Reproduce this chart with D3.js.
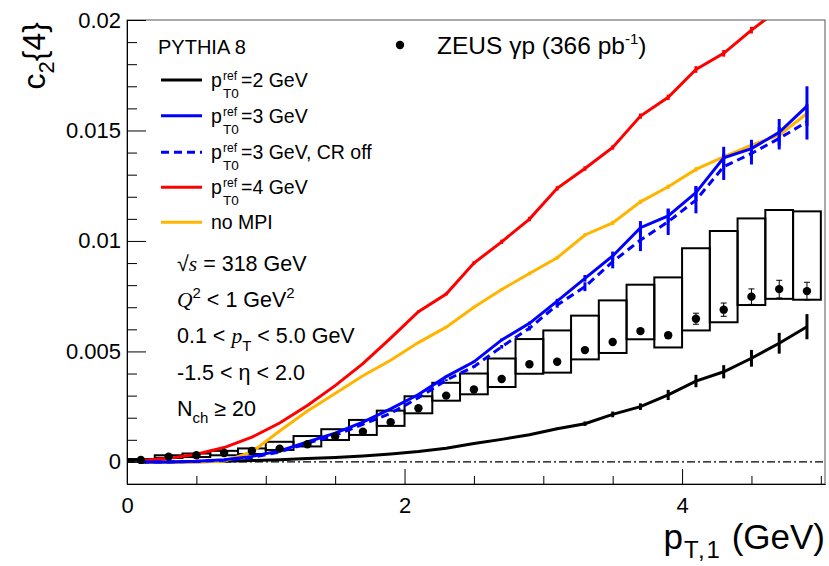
<!DOCTYPE html>
<html>
<head>
<meta charset="utf-8">
<script src="https://cdn.jsdelivr.net/npm/d3@7"></script>
<style>
  body { margin: 0; background: #fff; }
  text { font-family: "Liberation Sans", Arial, Helvetica, sans-serif; fill: #000; }
  .it { font-family: "Liberation Serif", "Times New Roman", serif; font-style: italic; }
</style>
</head>
<body>
<div id="canvas"></div>
<script>
// bin centres (GeV)
const ptBins = [0.1, 0.3, 0.5, 0.7, 0.9, 1.1, 1.3, 1.5, 1.7, 1.9, 2.1, 2.3, 2.5, 2.7, 2.9, 3.1, 3.3, 3.5, 3.7, 3.9, 4.1, 4.3, 4.5, 4.7, 4.9];

// ZEUS data
const zeusVal   = [0.00009, 0.00024, 0.0003, 0.0004, 0.0005, 0.0006, 0.0008, 0.00115, 0.00137, 0.0018, 0.00243, 0.003, 0.00328, 0.00375, 0.00442, 0.00453, 0.00506, 0.00543, 0.00592, 0.00573, 0.00648, 0.00689, 0.00748, 0.00782, 0.00773];
const zeusStat  = [0, 0, 0, 0, 0, 0, 0, 0, 0, 0, 0, 0, 0, 0, 0, 0, 0, 0, 0.0001, 0.00012, 0.00025, 0.0003, 0.00035, 0.0004, 0.0004];
const zeusSysLo = [0.00005, 0.00018, 0.00022, 0.0003, 0.00036, 0.00054, 0.0007, 0.00099, 0.00122, 0.00163, 0.0022, 0.00277, 0.00306, 0.00339, 0.00399, 0.00404, 0.00464, 0.00493, 0.00555, 0.00518, 0.00595, 0.00632, 0.0071, 0.00738, 0.00734];
const zeusSysHi = [0.00013, 0.0003, 0.00038, 0.0005, 0.00061, 0.00091, 0.00117, 0.00148, 0.0019, 0.00232, 0.00297, 0.00358, 0.004, 0.00468, 0.00556, 0.00595, 0.00662, 0.00731, 0.00802, 0.00835, 0.00967, 0.01045, 0.01102, 0.0114, 0.01134];

// PYTHIA 8 curves
const pt0ref2    = [0, 0, 0.00001, 0.00003, 0.00006, 0.0001, 0.00015, 0.0002, 0.00027, 0.00036, 0.00047, 0.00062, 0.00083, 0.00102, 0.00123, 0.0015, 0.00173, 0.00215, 0.0025, 0.00303, 0.00366, 0.00408, 0.00469, 0.00537, 0.00612];
const pt0ref2Err = [0, 0, 0, 0, 0, 0, 0, 0, 0, 0, 0.00002, 0.00002, 0.00003, 0.00003, 0.00004, 0.00005, 0.0001, 0.00013, 0.00015, 0.00023, 0.00028, 0.0003, 0.00038, 0.00047, 0.00057];
const pt0ref3    = [0, 0, 0.00003, 0.0001, 0.00025, 0.0005, 0.0009, 0.0013, 0.0018, 0.0024, 0.00305, 0.00386, 0.00453, 0.00552, 0.00627, 0.00728, 0.00831, 0.00932, 0.0106, 0.01113, 0.01219, 0.01376, 0.01418, 0.01492, 0.0161];
const pt0ref3Err = [0, 0, 0, 0, 0, 0, 0, 0, 0, 0, 0.00003, 0.00004, 0.00005, 0.00006, 0.00008, 0.0001, 0.00015, 0.0002, 0.0003, 0.0003, 0.0003, 0.0005, 0.0004, 0.0006, 0.0009];
const pt0ref3CR    = [0, 0, 0.00002, 0.00008, 0.0002, 0.00045, 0.00085, 0.0012, 0.0017, 0.0022, 0.0029, 0.0037, 0.00431, 0.00521, 0.00605, 0.0071, 0.00793, 0.00906, 0.01004, 0.01087, 0.01185, 0.01336, 0.01396, 0.01464, 0.01539];
const pt0ref3CRErr = [0, 0, 0, 0, 0, 0, 0, 0, 0, 0, 0.00003, 0.00004, 0.00005, 0.00008, 0.0001, 0.00012, 0.0002, 0.0003, 0.0005, 0.0006, 0.0006, 0.0006, 0.0005, 0.0005, 0.0008];
const pt0ref4    = [0.00006, 0.00016, 0.00035, 0.00065, 0.00112, 0.00176, 0.00255, 0.00345, 0.00445, 0.0056, 0.0068, 0.0076, 0.009, 0.00996, 0.01099, 0.01238, 0.01328, 0.01423, 0.01565, 0.0165, 0.01776, 0.01849, 0.01954, 0.0205, 0.0213];
const pt0ref4Err = [0, 0, 0, 0, 0, 0, 0, 0, 0, 0, 0.00005, 0.00006, 0.00008, 0.0001, 0.0001, 0.0001, 0.0001, 0.0001, 0.00012, 0.00012, 0.00015, 0.00015, 0.00015, 0.00015, 0.00015];
const noMPI    = [0, 0, 0, 0.00003, 0.00045, 0.0014, 0.0023, 0.0031, 0.0039, 0.0046, 0.0054, 0.0061, 0.007, 0.0078, 0.00853, 0.00924, 0.01027, 0.01082, 0.01177, 0.01245, 0.01324, 0.01381, 0.01434, 0.01479, 0.01577];
const noMPIErr = [0, 0, 0, 0, 0, 0, 0, 0, 0, 0, 0.00004, 0.00005, 0.00006, 0.00006, 0.00008, 0.00008, 0.00008, 0.0001, 0.0001, 0.0001, 0.0001, 0.00012, 0.00012, 0.00012, 0.00015];

// axis ticks
const xMajorTicks = [0, 2, 4];
const xTickLabels = ["0", "2", "4"];
const xMinorTicks = [0.5, 1, 1.5, 2.5, 3, 3.5, 4.5, 5];
const yMajorTicks = [0, 0.005, 0.01, 0.015, 0.02];
const yTickLabels = ["0", "0.005", "0.01", "0.015", "0.02"];
const yMinorTicks = d3.range(-1, 21).filter(i => i % 5 !== 0).map(i => i / 1000);

const width = 829;
const height = 566;
const margin = { top: 20, left: 127, bottom: 82, right: 4 };

const svg = d3.select("#canvas").append("svg")
    .attr("width", width)
    .attr("height", height);

const x = d3.scaleLinear().domain([0, 5.03]).range([margin.left, width - margin.right]);
const y = d3.scaleLinear().domain([-0.001, 0.02]).range([height - margin.bottom, margin.top]);

svg.append("clipPath").attr("id", "plotclip")
    .append("rect")
    .attr("x", x(0)).attr("y", y(0.02))
    .attr("width", x(5.03) - x(0)).attr("height", y(-0.001) - y(0.02));

const plot = svg.append("g").attr("clip-path", "url(#plotclip)");

// zero line
plot.append("line")
    .attr("x1", x(0)).attr("x2", x(5.03))
    .attr("y1", y(0)).attr("y2", y(0))
    .attr("stroke", "#000").attr("stroke-width", 1.3)
    .attr("stroke-dasharray", "8,3,2,3");

// ZEUS systematic boxes
plot.selectAll("rect.sys").data(ptBins).enter().append("rect")
    .attr("class", "sys")
    .attr("x", d => x(d - 0.1))
    .attr("width", d => x(d + 0.1) - x(d - 0.1))
    .attr("y", (d, i) => y(zeusSysHi[i]))
    .attr("height", (d, i) => y(zeusSysLo[i]) - y(zeusSysHi[i]))
    .attr("fill", "none")
    .attr("stroke", "#000")
    .attr("stroke-width", 2);

// simulation curves
const curves = [
    { vals: pt0ref2, errs: pt0ref2Err, color: "#000000", dash: null },
    { vals: noMPI, errs: noMPIErr, color: "#ffb400", dash: null },
    { vals: pt0ref4, errs: pt0ref4Err, color: "#ff0000", dash: null },
    { vals: pt0ref3CR, errs: pt0ref3CRErr, color: "#0000ff", dash: "8,5" },
    { vals: pt0ref3, errs: pt0ref3Err, color: "#0000ff", dash: null }
];

const line = d3.line()
    .x(d => x(d[0]))
    .y(d => y(d[1]));

curves.forEach(c => {
    const pts = ptBins.map((p, i) => [p, c.vals[i], c.errs[i]]);
    plot.append("path")
        .datum(pts)
        .attr("d", line)
        .attr("fill", "none")
        .attr("stroke", c.color)
        .attr("stroke-width", 3)
        .attr("stroke-dasharray", c.dash);
    plot.selectAll(null).data(pts.filter(d => d[2] > 0)).enter().append("line")
        .attr("x1", d => x(d[0])).attr("x2", d => x(d[0]))
        .attr("y1", d => y(d[1] - d[2])).attr("y2", d => y(d[1] + d[2]))
        .attr("stroke", c.color)
        .attr("stroke-width", 3);
});

// ZEUS points with stat errors
const zeus = ptBins.map((p, i) => ({ p: p, v: zeusVal[i], e: zeusStat[i] }));
const withErr = zeus.filter(d => d.e > 0);
plot.selectAll("line.stat").data(withErr).enter().append("line")
    .attr("class", "stat")
    .attr("x1", d => x(d.p)).attr("x2", d => x(d.p))
    .attr("y1", d => y(d.v - d.e)).attr("y2", d => y(d.v + d.e))
    .attr("stroke", "#000").attr("stroke-width", 1);
[-1, 1].forEach(s => {
    plot.selectAll(null).data(withErr).enter().append("line")
        .attr("x1", d => x(d.p) - 3).attr("x2", d => x(d.p) + 3)
        .attr("y1", d => y(d.v + s * d.e)).attr("y2", d => y(d.v + s * d.e))
        .attr("stroke", "#000").attr("stroke-width", 1);
});
plot.selectAll("circle.zeus").data(zeus).enter().append("circle")
    .attr("class", "zeus")
    .attr("cx", d => x(d.p))
    .attr("cy", d => y(d.v))
    .attr("r", 4.2)
    .attr("fill", "#000");

// frame
svg.append("rect")
    .attr("x", x(0)).attr("y", y(0.02))
    .attr("width", x(5.03) - x(0)).attr("height", y(-0.001) - y(0.02))
    .attr("fill", "none").attr("stroke", "#555").attr("stroke-width", 1);

// axes (ticks point inwards)
function styleAxis(g, size) {
    g.select(".domain").attr("stroke", "#000");
    g.selectAll(".tick line").attr("stroke", "#000");
    g.selectAll(".tick text")
        .style("font-family", '"Liberation Sans", Arial, sans-serif')
        .style("font-size", size + "px")
        .attr("fill", "#000");
}

svg.append("g")
    .attr("transform", `translate(0,${y(-0.001)})`)
    .call(d3.axisBottom(x).tickValues(xMinorTicks).tickSize(-8).tickSizeOuter(0).tickFormat(""))
    .call(g => styleAxis(g, 22));
svg.append("g")
    .attr("transform", `translate(0,${y(-0.001)})`)
    .call(d3.axisBottom(x).tickValues(xMajorTicks).tickSize(-15).tickSizeOuter(0).tickPadding(13)
        .tickFormat((d, i) => xTickLabels[i]))
    .call(g => styleAxis(g, 22));

svg.append("g")
    .attr("transform", `translate(${x(0)},0)`)
    .call(d3.axisLeft(y).tickValues(yMinorTicks).tickSize(-10).tickSizeOuter(0).tickFormat(""))
    .call(g => styleAxis(g, 22));
svg.append("g")
    .attr("transform", `translate(${x(0)},0)`)
    .call(d3.axisLeft(y).tickValues(yMajorTicks).tickSize(-19).tickSizeOuter(0).tickPadding(6)
        .tickFormat((d, i) => yTickLabels[i]))
    .call(g => styleAxis(g, 22));

// axis titles
const xt = svg.append("text")
    .attr("x", 825).attr("y", 549)
    .attr("text-anchor", "end")
    .style("font-size", "35px");
xt.append("tspan").text("p");
xt.append("tspan").attr("dy", 9).attr("dx", 1).style("font-size", "24px").style("letter-spacing", "2px").text("T,1");
xt.append("tspan").attr("dy", -9).text(" (GeV)");

const yt = svg.append("text")
    .attr("transform", "translate(45,22) rotate(-90)")
    .attr("text-anchor", "end")
    .style("font-size", "32px");
yt.append("tspan").text("c");
yt.append("tspan").attr("dy", 9).style("font-size", "22px").text("2");
yt.append("tspan").attr("dy", -9).text("{4}");

// legend
svg.append("text").attr("x", 158).attr("y", 54).style("font-size", "20px").text("PYTHIA 8");

const legendRows = [
    { y: 80, color: "#000000", dash: null, label: "=2 GeV", pref: true },
    { y: 115.7, color: "#0000ff", dash: null, label: "=3 GeV", pref: true },
    { y: 152.3, color: "#0000ff", dash: "8,5", label: "=3 GeV, CR off", pref: true },
    { y: 187.3, color: "#ff0000", dash: null, label: "=4 GeV", pref: true },
    { y: 222.3, color: "#ffb400", dash: null, label: "no MPI", pref: false }
];
legendRows.forEach(r => {
    svg.append("line")
        .attr("x1", 161).attr("x2", 202)
        .attr("y1", r.y).attr("y2", r.y)
        .attr("stroke", r.color).attr("stroke-width", 3)
        .attr("stroke-dasharray", r.dash);
    if (r.pref) {
        svg.append("text").attr("x", 211).attr("y", r.y + 7).style("font-size", "19.5px").text("p");
        svg.append("text").attr("x", 223).attr("y", r.y).style("font-size", "12px").text("ref");
        svg.append("text").attr("x", 223).attr("y", r.y + 18).style("font-size", "13.5px").text("T0");
        svg.append("text").attr("x", 241).attr("y", r.y + 7).style("font-size", "19.5px").text(r.label);
    } else {
        svg.append("text").attr("x", 211).attr("y", r.y + 7).style("font-size", "19.5px").text(r.label);
    }
});

// ZEUS legend entry
svg.append("circle").attr("cx", 400).attr("cy", 45).attr("r", 4.2).attr("fill", "#000");
const zt = svg.append("text").attr("x", 437).attr("y", 54).style("font-size", "24.5px");
zt.append("tspan").text("ZEUS γp (366 pb");
zt.append("tspan").attr("dy", -10).style("font-size", "15px").text("-1");
zt.append("tspan").attr("dy", 10).text(")");

// selection text
const info = svg.append("g").style("font-size", "21.5px");
const t1 = info.append("text").attr("x", 177).attr("y", 271);
t1.append("tspan").text("√");
t1.append("tspan").attr("class", "it").text("s");
t1.append("tspan").text(" = 318 GeV");

const t2 = info.append("text").attr("x", 177).attr("y", 307);
t2.append("tspan").attr("class", "it").text("Q");
t2.append("tspan").attr("dy", -9).style("font-size", "15px").text("2");
t2.append("tspan").attr("dy", 9).text(" < 1 GeV");
t2.append("tspan").attr("dy", -9).style("font-size", "15px").text("2");

const t3 = info.append("text").attr("x", 177).attr("y", 343);
t3.append("tspan").text("0.1 < ");
t3.append("tspan").attr("class", "it").text("p");
t3.append("tspan").attr("dy", 8).style("font-size", "15px").text("T");
t3.append("tspan").attr("dy", -8).text(" < 5.0 GeV");

info.append("text").attr("x", 177).attr("y", 380).text("-1.5 < η < 2.0");

const t5 = info.append("text").attr("x", 177).attr("y", 416);
t5.append("tspan").text("N");
t5.append("tspan").attr("dy", 7).style("font-size", "15px").text("ch");
t5.append("tspan").attr("dy", -7).text(" ≥ 20");
</script>
</body>
</html>
